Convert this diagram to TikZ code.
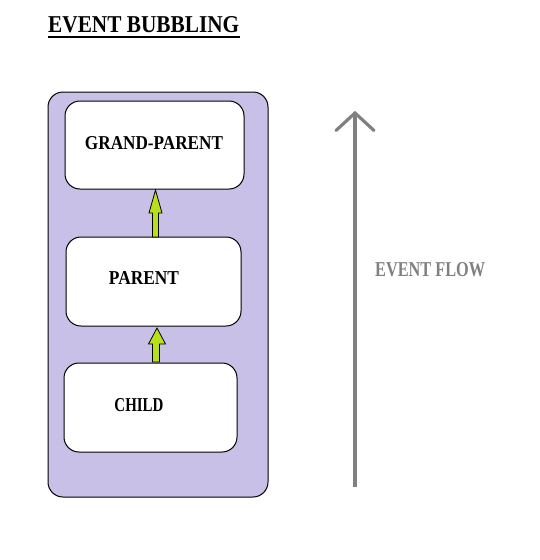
\documentclass[tikz,border=0pt]{standalone}
\usepackage{fontspec}
\setmainfont{Liberation Serif}
\usepackage{graphicx}
\definecolor{panel}{RGB}{200,192,230}
\definecolor{leaf}{RGB}{184,224,26}
\definecolor{flow}{RGB}{128,128,128}
\tikzset{
  box/.style={draw=black, line width=1pt, fill=white, rounded corners=15pt, inner sep=0pt},
  lbl/.style={inner sep=0pt, font=\bfseries},
  blockarrow/.style={draw=black, line width=0.8pt, fill=leaf},
}
\begin{document}
\begin{tikzpicture}[x=1pt,y=-1pt]
\useasboundingbox (0,0) rectangle (539,560);
% title
\node[lbl, anchor=south west] (title) at (48,33) {\resizebox{191pt}{16pt}{EVENT BUBBLING}};
\draw[line width=1.6pt] (48,37) -- (240,37);
% panel
\node[draw=black, line width=1pt, fill=panel, rounded corners=15pt, minimum width=220pt, minimum height=405pt] (panel) at (158,294.5) {};
% boxes
\node[box, minimum width=179pt, minimum height=88pt] (gp) at (154.5,145) {};
\node[box, minimum width=175pt, minimum height=89pt] (par) at (153.5,281.5) {};
\node[box, minimum width=173pt, minimum height=89pt] (ch) at (150.5,407.5) {};
\node[lbl] (gpt) at (154,143) {\resizebox{138pt}{13pt}{GRAND-PARENT}};
\node[lbl] (part) at (144,278) {\resizebox{70pt}{13pt}{PARENT}};
\node[lbl] (cht) at (139,405.5) {\resizebox{49pt}{13pt}{CHILD}};
% green block arrows
\draw[blockarrow] (152.5,237) -- (152.5,213) -- (149,213) -- (155.5,190) -- (162,213) -- (158.5,213) -- (158.5,237) -- cycle;
\draw[blockarrow] (152.5,362) -- (152.5,344) -- (148.5,344) -- (157,328) -- (165.5,344) -- (159.5,344) -- (159.5,362) -- cycle;
% event flow arrow
\coordinate (fbot) at (355,487);
\coordinate (ftop) at (355,113);
\draw[flow, line width=3.2pt] (fbot) -- (ftop);
\draw[flow, line width=3.2pt, line cap=round, line join=miter] (336,130.5) -- (ftop) -- (374,130.5);
\node[lbl, text=flow, anchor=west] (flowt) at (375,270) {\resizebox{110pt}{14pt}{EVENT FLOW}};
\end{tikzpicture}
\end{document}
